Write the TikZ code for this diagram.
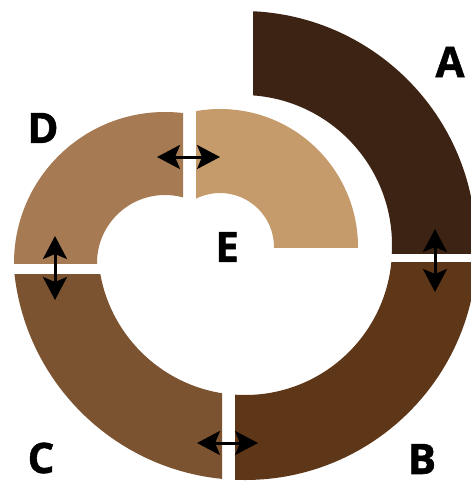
\documentclass[tikz,border=0pt]{standalone}
\usepackage{fontspec}
\setsansfont{Open Sans}
\newfontfamily\tagfont{Open Sans}[FakeBold=1.2]
\usetikzlibrary{arrows.meta}
\definecolor{ringA}{RGB}{60,35,20}
\definecolor{ringB}{RGB}{94,54,24}
\definecolor{ringC}{RGB}{123,83,49}
\definecolor{ringD}{RGB}{166,123,83}
\definecolor{ringE}{RGB}{197,155,107}

\begin{document}
\begin{tikzpicture}[x=1pt, y=-1pt,
    tag/.style={font=\tagfont\bfseries\fontsize{42}{42}\selectfont, inner sep=0pt},
    link/.style={{Stealth[length=23pt, width=24pt, inset=5pt]}-{Stealth[length=23pt, width=24pt, inset=5pt]}, line width=3pt, black}
]
\useasboundingbox (0,0) rectangle (471,482);

% Segment A
\begin{scope}
\clip (253,0) rectangle (471,253);
\fill[ringA, even odd rule] (242,245) circle[radius=234pt] (242,245) circle[radius=150pt];
\end{scope}

% Segment B
\begin{scope}
\clip (235,262) rectangle (471,482);
\fill[ringB, even odd rule] (245,248) circle[radius=232pt] (245,248) circle[radius=147pt];
\end{scope}

% Segment C
\begin{scope}
\clip (0,274) rectangle (222,482);
\fill[ringC, even odd rule] (245,248) circle[radius=232pt] (245,248) circle[radius=147pt];
\end{scope}

% Segment D
\begin{scope}
\clip (0,0) rectangle (183,263);
\fill[ringD, even odd rule] (165,263) circle[radius=151pt] (165,263) circle[radius=68pt];
\end{scope}

% Segment E
\begin{scope}
\clip (196,0) rectangle (471,247);
\fill[ringE, even odd rule] (220,247) circle[radius=138pt] (220,247) circle[radius=54pt];
\end{scope}

% Labels
\node[tag] (labA) at (450,62) {A};
\node[tag] (labB) at (422,459) {B};
\node[tag] (labC) at (41,458) {C};
\node[tag] (labD) at (43,128) {D};
\node[tag] (labE) at (227,247) {E};

% Arrow ends
\coordinate (deL) at (157,157);
\coordinate (deR) at (220,157);
\coordinate (dcT) at (55,236);
\coordinate (dcB) at (55,300);
\coordinate (abT) at (435,229);
\coordinate (abB) at (435,292);
\coordinate (cbL) at (197,443);
\coordinate (cbR) at (258,443);

% Arrows
\draw[link] (deL) -- (deR);
\draw[link] (dcT) -- (dcB);
\draw[link] (abT) -- (abB);
\draw[link] (cbL) -- (cbR);

\end{tikzpicture}
\end{document}
